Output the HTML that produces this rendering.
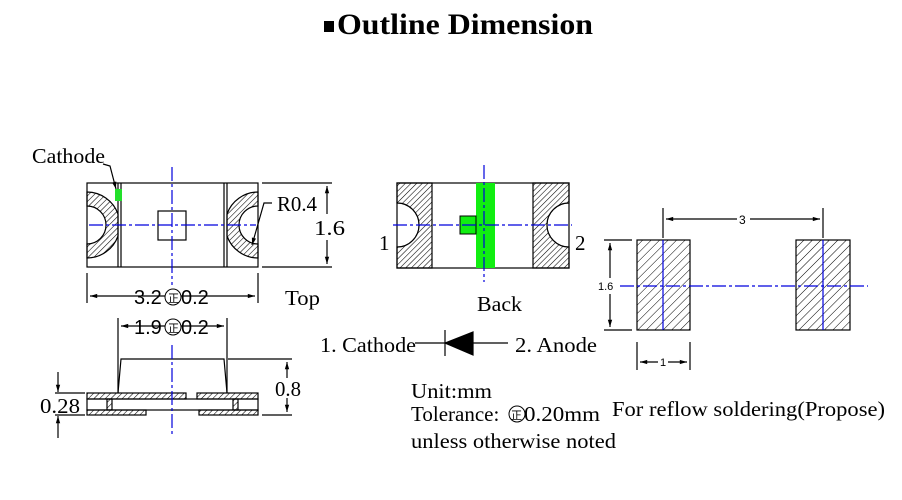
<!DOCTYPE html>
<html><head><meta charset="utf-8"><style>
html,body{margin:0;padding:0;background:#fff;}
svg{display:block;}
.s{font-family:"Liberation Serif",serif;}
.a{font-family:"Liberation Sans",sans-serif;}
</style></head><body>
<svg width="902" height="500" viewBox="0 0 902 500" xmlns="http://www.w3.org/2000/svg">
<defs>
<pattern id="h" width="4" height="4" patternUnits="userSpaceOnUse" patternTransform="rotate(45)">
<line x1="0" y1="0" x2="0" y2="4" stroke="#000" stroke-width="1.1"/></pattern>
<pattern id="h2" width="6" height="6" patternUnits="userSpaceOnUse" patternTransform="rotate(45)">
<line x1="0" y1="0" x2="0" y2="6" stroke="#000" stroke-width="1"/></pattern>
<marker id="ar" viewBox="0 0 10 10" refX="10" refY="5" markerWidth="8" markerHeight="6" orient="auto-start-reverse"><path d="M0,2 L10,5 L0,8 Z" fill="#000"/></marker>
</defs>
<rect x="324" y="21" width="10" height="11" fill="#000"/>
<text x="337" y="34" class="s" font-size="30" font-weight="bold" textLength="256" lengthAdjust="spacingAndGlyphs">Outline Dimension</text>

<g fill="none" stroke="#000" stroke-width="1.2">
<rect x="87" y="183" width="171" height="84"/>
<line x1="118" y1="183" x2="118" y2="267"/><line x1="121" y1="183" x2="121" y2="267"/>
<line x1="224" y1="183" x2="224" y2="267"/><line x1="227" y1="183" x2="227" y2="267"/>
<rect x="158" y="211" width="28" height="29"/>
<path d="M87,192 A33,33 0 0 1 118,214 L118,236 A33,33 0 0 1 87,258 L87,244 A19,19 0 0 0 87,206 Z" fill="url(#h)"/>
<path d="M258,192 A33,33 0 0 0 227,214 L227,236 A33,33 0 0 0 258,258 L258,244 A19,19 0 0 1 258,206 Z" fill="url(#h)"/>
<line x1="262" y1="183" x2="332" y2="183"/><line x1="262" y1="267" x2="332" y2="267"/>
<line x1="327" y1="186" x2="327" y2="214" marker-start="url(#ar)"/><line x1="327" y1="240" x2="327" y2="264" marker-end="url(#ar)"/>
<path d="M272,203 L264,203 L252,245" marker-end="url(#ar)"/>
<path d="M103,164 L110,166 L116,189" marker-end="url(#ar)"/>
<line x1="87" y1="273" x2="87" y2="303"/><line x1="258" y1="273" x2="258" y2="303"/>
<line x1="90" y1="296" x2="255" y2="296" marker-start="url(#ar)" marker-end="url(#ar)"/>
<line x1="118" y1="318" x2="118" y2="393"/><line x1="227" y1="318" x2="227" y2="393"/>
<line x1="121" y1="326" x2="224" y2="326" marker-start="url(#ar)" marker-end="url(#ar)"/>
<rect x="87" y="393" width="99" height="6" fill="url(#h)"/>
<rect x="197" y="393" width="61" height="6" fill="url(#h)"/>
<rect x="87" y="399" width="171" height="11"/>
<rect x="107" y="399" width="5" height="11" fill="url(#h)"/>
<rect x="233" y="399" width="5" height="11" fill="url(#h)"/>
<rect x="87" y="410" width="59" height="5" fill="url(#h)"/>
<rect x="199" y="410" width="59" height="5" fill="url(#h)"/>
<path d="M118,393 L121,359 L224,359 L227,393"/>
<line x1="228" y1="359" x2="292" y2="359"/><line x1="262" y1="415" x2="292" y2="415"/>
<line x1="287" y1="362" x2="287" y2="378" marker-start="url(#ar)"/><line x1="287" y1="398" x2="287" y2="412" marker-end="url(#ar)"/>
<line x1="55" y1="393" x2="85" y2="393"/><line x1="55" y1="415" x2="85" y2="415"/>
<line x1="58" y1="372" x2="58" y2="392" marker-end="url(#ar)"/><line x1="58" y1="438" x2="58" y2="416" marker-end="url(#ar)"/>
<rect x="397" y="183" width="172" height="85"/>
<path d="M397,183 L432,183 L432,268 L397,268 L397,247 A22,22 0 0 0 397,203 Z" fill="url(#h)"/>
<path d="M569,183 L533,183 L533,268 L569,268 L569,247 A22,22 0 0 1 569,203 Z" fill="url(#h)"/>
<line x1="415" y1="343" x2="508" y2="343"/>
<line x1="445" y1="330" x2="445" y2="356"/>
<path d="M445,343 L473,332 L473,355 Z" fill="#000"/>
<rect x="637" y="240" width="53" height="90" fill="url(#h2)"/>
<rect x="796" y="240" width="54" height="90" fill="url(#h2)"/>
<line x1="663" y1="208" x2="663" y2="238"/><line x1="823" y1="208" x2="823" y2="238"/>
<line x1="666" y1="219" x2="737" y2="219" marker-start="url(#ar)"/><line x1="750" y1="219" x2="820" y2="219" marker-end="url(#ar)"/>
<line x1="604" y1="240" x2="632" y2="240"/><line x1="604" y1="330" x2="632" y2="330"/>
<line x1="610" y1="243" x2="610" y2="278" marker-start="url(#ar)"/><line x1="610" y1="294" x2="610" y2="327" marker-end="url(#ar)"/>
<line x1="637" y1="342" x2="637" y2="370"/><line x1="690" y1="342" x2="690" y2="370"/>
<line x1="640" y1="362" x2="658" y2="362" marker-start="url(#ar)"/><line x1="668" y1="362" x2="687" y2="362" marker-end="url(#ar)"/>
</g>
<rect x="115" y="189" width="7" height="12" fill="#22e02a"/>
<rect x="476" y="183" width="19" height="85" fill="#11ee11"/>
<rect x="460" y="216" width="16" height="18" fill="#11ee11" stroke="#000" stroke-width="1"/>
<g stroke="#0000dd" stroke-width="1.2" fill="none" stroke-dasharray="14,3,3,3">
<line x1="172" y1="167" x2="172" y2="285"/>
<line x1="89" y1="225" x2="256" y2="225"/>
<line x1="172" y1="345" x2="172" y2="436"/>
<line x1="484" y1="165" x2="484" y2="282"/>
<line x1="393" y1="225" x2="572" y2="225"/>
<line x1="620" y1="286" x2="868" y2="286"/>
</g>
<g stroke="#0000dd" stroke-width="1.2"><line x1="663" y1="240" x2="663" y2="330"/><line x1="823" y1="240" x2="823" y2="330"/></g>

<g class="s" font-size="21" fill="#000" lengthAdjust="spacingAndGlyphs">
<text x="32" y="163" textLength="73" lengthAdjust="spacingAndGlyphs">Cathode</text>
<text x="277" y="211" textLength="40" lengthAdjust="spacingAndGlyphs">R0.4</text>
<text x="314" y="235" textLength="31" lengthAdjust="spacingAndGlyphs">1.6</text>
<text x="285" y="305" textLength="35" lengthAdjust="spacingAndGlyphs">Top</text>
<text x="275" y="396" textLength="26" lengthAdjust="spacingAndGlyphs">0.8</text>
<text x="40" y="413" textLength="40" lengthAdjust="spacingAndGlyphs">0.28</text>
<text x="379" y="250">1</text>
<text x="575" y="250">2</text>
<text x="477" y="311" textLength="45" lengthAdjust="spacingAndGlyphs">Back</text>
<text x="320" y="352" textLength="96" lengthAdjust="spacingAndGlyphs">1. Cathode</text>
<text x="515" y="352" textLength="82" lengthAdjust="spacingAndGlyphs">2. Anode</text>
<text x="411" y="398" textLength="81" lengthAdjust="spacingAndGlyphs">Unit:mm</text>
<text x="411" y="421">Tolerance:</text>
<circle cx="517" cy="414" r="8" fill="#fff" stroke="#000"/><text x="511" y="419" font-size="11">正</text>
<text x="524" y="421" textLength="76" lengthAdjust="spacingAndGlyphs">0.20mm</text>
<text x="411" y="448" textLength="205" lengthAdjust="spacingAndGlyphs">unless otherwise noted</text>
<text x="612" y="416" textLength="273" lengthAdjust="spacingAndGlyphs">For reflow soldering(Propose)</text>
</g>
<g class="a" font-size="20" fill="#000">
<text x="134" y="304">3.2</text><circle cx="173" cy="297" r="8" fill="#fff" stroke="#000"/><text x="168" y="302" font-size="11">正</text><text x="181" y="304">0.2</text>
<text x="134" y="334">1.9</text><circle cx="173" cy="327" r="8" fill="#fff" stroke="#000"/><text x="168" y="332" font-size="11">正</text><text x="181" y="334">0.2</text>
<text x="739" y="224" font-size="12">3</text>
<text x="598" y="290" font-size="11">1.6</text>
<text x="660" y="366" font-size="11">1</text>
</g>
</svg>
</body></html>
